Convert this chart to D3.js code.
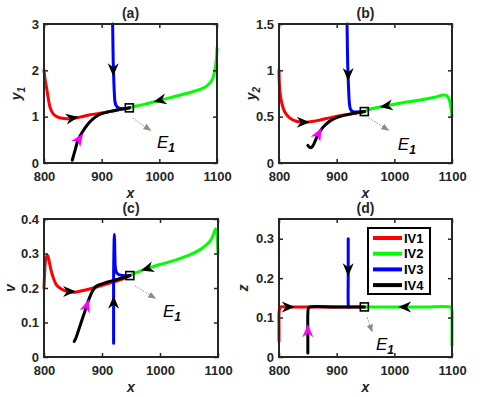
<!DOCTYPE html>
<html>
<head>
<meta charset="utf-8">
<script src="https://cdn.jsdelivr.net/npm/d3@7"></script>
<style>
  body { margin: 0; background: #fff; }
  svg text { font-family: "Liberation Sans", Arial, sans-serif; fill: #262626; }
</style>
</head>
<body>
<div id="chart"></div>
<script>
// ---- data ----
const seriesNames = ['IV1', 'IV2', 'IV3', 'IV4'];
const xTicks = [800, 900, 1000, 1100];

// (a) x vs y1
const aTicks = [0, 1, 2, 3];
const aIV1 = [[800,2.0],[802,1.8],[805,1.58],[808,1.35],[811,1.18],[816,1.06],[824,0.99],[835,0.96],[848,0.96],[862,0.99],[880,1.04],[895,1.07],[910,1.1],[925,1.14],[948,1.19]];
const aIV2 = [[1100,2.48],[1099,2.25],[1097,2.05],[1094,1.88],[1090,1.76],[1083,1.67],[1075,1.61],[1050,1.51],[1025,1.43],[1000,1.35],[975,1.27],[960,1.23],[948,1.19]];
const aIV3 = [[919,3.0],[919.5,2.6],[920,2.2],[921,1.8],[922,1.5],[923,1.33],[925,1.24],[929,1.19],[936,1.17],[948,1.19]];
const aIV4 = [[849,0.06],[854,0.28],[859,0.5],[866,0.66],[875,0.82],[885,0.95],[895,1.04],[910,1.1],[925,1.14],[948,1.19]];
const aArrows = [['IV1',850,0.97,10,0.02],['IV3',920,2.0,0,-1],['IV2',1000,1.35,-10,-0.03],['IV4',862,0.53,10,0.175]];
const aE1 = [948, 1.19];
const aE1Arrow = [954, 0.97, 984, 0.71];
const aE1Label = [996, 0.32];

// (b) x vs y2
const bTicks = [0, 0.5, 1, 1.5];
const bIV1 = [[800,1.0],[800.5,0.88],[802,0.75],[805,0.64],[810,0.55],[818,0.49],[830,0.45],[845,0.44],[860,0.45],[875,0.47],[890,0.49],[910,0.515],[930,0.535],[948,0.555]];
const bIV2 = [[1100,0.5],[1099,0.56],[1097,0.64],[1094,0.7],[1090,0.73],[1085,0.735],[1070,0.71],[1050,0.685],[1025,0.66],[1000,0.635],[975,0.605],[960,0.585],[948,0.555]];
const bIV3 = [[918,1.5],[918.5,1.3],[919,1.1],[920,0.9],[921,0.75],[922,0.65],[924,0.58],[928,0.555],[935,0.55],[948,0.555]];
const bIV4 = [[850,0.19],[853,0.17],[856,0.165],[860,0.2],[865,0.27],[872,0.35],[880,0.41],[890,0.46],[905,0.5],[925,0.53],[948,0.555]];
const bArrows = [['IV1',843,0.44,10,0.0],['IV3',920,0.95,0,-1],['IV2',985,0.615,-10,-0.01],['IV4',869,0.32,7,0.08]];
const bE1 = [948, 0.555];
const bE1Arrow = [956, 0.485, 989, 0.356];
const bE1Label = [1006, 0.14];

// (c) x vs v
const cTicks = [0, 0.1, 0.2, 0.3, 0.4];
const cIV1 = [[800,0.2],[801,0.24],[802,0.27],[804,0.29],[806,0.295],[808,0.285],[811,0.26],[815,0.235],[821,0.21],[830,0.197],[840,0.19],[852,0.188],[865,0.192],[880,0.198],[895,0.205],[915,0.215],[935,0.226],[948,0.236]];
const cIV2 = [[1100,0.3],[1099,0.33],[1098,0.36],[1096,0.372],[1093,0.36],[1088,0.34],[1080,0.325],[1070,0.312],[1050,0.295],[1025,0.28],[1000,0.268],[975,0.255],[960,0.245],[948,0.236]];
const cIV3 = [[920,0.04],[920,0.1],[920,0.16],[920,0.22],[920.3,0.28],[920.8,0.33],[921.3,0.356],[921.8,0.33],[922.3,0.29],[923,0.26],[925,0.245],[930,0.238],[948,0.236]];
const cIV4 = [[852,0.045],[855,0.055],[860,0.08],[866,0.11],[872,0.14],[878,0.17],[884,0.192],[890,0.205],[900,0.212],[920,0.222],[935,0.229],[948,0.236]];
const cArrows = [['IV1',845,0.19,10,0.0],['IV3',920,0.16,0,1],['IV2',977,0.256,-10,-0.005],['IV4',874,0.15,6,0.03]];
const cE1 = [948, 0.236];
const cE1Arrow = [957, 0.206, 991, 0.171];
const cE1Label = [1005, 0.116];

// (d) x vs z
const dTicks = [0, 0.1, 0.2, 0.3];
const dIV1 = [[800,0.04],[800,0.08],[800,0.11],[801,0.122],[803,0.127],[810,0.127],[850,0.127],[900,0.127],[948,0.127]];
const dIV2 = [[1100,0.03],[1100,0.08],[1100,0.115],[1099,0.124],[1097,0.127],[1050,0.127],[1000,0.127],[948,0.127]];
const dIV3 = [[920,0.3],[920,0.2],[920,0.135],[920.5,0.128],[922,0.127]];
const dIV4 = [[850,0.01],[850,0.06],[850,0.11],[851,0.124],[853,0.127],[900,0.127],[948,0.127]];
const dArrows = [['IV1',817,0.127,1,0],['IV3',920,0.22,0,-1],['IV2',1017,0.127,-1,0],['IV4',850,0.068,0,1]];
const dE1 = [948, 0.127];
const dE1Arrow = [953, 0.10, 961, 0.066];
const dE1Label = [968, 0.018];

// ---- styling / layout ----
const colors = { IV1: '#ff0000', IV2: '#00ff00', IV3: '#0000ff', IV4: '#000000' };
const W = 482, H = 397;

const panels = [
  { title: '(a)', ylab: 'y', sub: '1', yOff: 23, yDomain: [0, 3],    yTicks: aTicks, data: [aIV1, aIV2, aIV3, aIV4], arrows: aArrows, e1: aE1, e1Arrow: aE1Arrow, e1Label: aE1Label, box: { l: 44,  r: 217, t: 24,  b: 163 } },
  { title: '(b)', ylab: 'y', sub: '2', yOff: 23, yDomain: [0, 1.5],  yTicks: bTicks, data: [bIV1, bIV2, bIV3, bIV4], arrows: bArrows, e1: bE1, e1Arrow: bE1Arrow, e1Label: bE1Label, box: { l: 279, r: 452, t: 24,  b: 163 } },
  { title: '(c)', ylab: 'v', sub: '',  yOff: 29, yDomain: [0, 0.4],  yTicks: cTicks, data: [cIV1, cIV2, cIV3, cIV4], arrows: cArrows, e1: cE1, e1Arrow: cE1Arrow, e1Label: cE1Label, box: { l: 44,  r: 218, t: 219, b: 357 } },
  { title: '(d)', ylab: 'z', sub: '',  yOff: 31, yDomain: [0, 0.35], yTicks: dTicks, data: [dIV1, dIV2, dIV3, dIV4], arrows: dArrows, e1: dE1, e1Arrow: dE1Arrow, e1Label: dE1Label, box: { l: 279, r: 452, t: 219, b: 357 }, legend: true }
];

const svg = d3.select('#chart').append('svg')
  .attr('width', W)
  .attr('height', H);

const defs = svg.append('defs');
defs.append('marker')
  .attr('id', 'grayHead')
  .attr('viewBox', '0 0 10 10')
  .attr('refX', 8).attr('refY', 5)
  .attr('markerWidth', 8).attr('markerHeight', 8)
  .attr('markerUnits', 'userSpaceOnUse')
  .attr('orient', 'auto')
  .append('path')
  .attr('d', 'M0,1 L10,5 L0,9 Z')
  .attr('fill', '#8c8c8c');

// matlab-like barbed arrow head, tip pointing along +x
const headPath = 'M6,0 L-7,-5.5 L-3,0 L-7,5.5 Z';

panels.forEach(p => {
  const x = d3.scaleLinear().domain([800, 1100]).range([p.box.l, p.box.r]);
  const y = d3.scaleLinear().domain(p.yDomain).range([p.box.b, p.box.t]);
  const g = svg.append('g');

  const line = d3.line()
    .x(d => x(d[0]))
    .y(d => y(d[1]))
    .curve(d3.curveCatmullRom.alpha(0.5));

  // curves, IV1 first so IV4 ends on top
  p.data.forEach((pts, i) => {
    g.append('path')
      .attr('d', line(pts))
      .attr('fill', 'none')
      .attr('stroke', colors[seriesNames[i]])
      .attr('stroke-width', 3)
      .attr('stroke-linecap', 'round')
      .attr('stroke-linejoin', 'round');
  });

  // direction arrows
  p.arrows.forEach(a => {
    const px = x(a[1]), py = y(a[2]);
    const ang = Math.atan2(y(a[2] + a[4]) - py, x(a[1] + a[3]) - px) * 180 / Math.PI;
    g.append('path')
      .attr('d', headPath)
      .attr('transform', `translate(${px},${py}) rotate(${ang})`)
      .attr('fill', a[0] === 'IV4' ? '#ff00ff' : '#000');
  });

  // equilibrium marker
  g.append('rect')
    .attr('x', x(p.e1[0]) - 4).attr('y', y(p.e1[1]) - 4)
    .attr('width', 8).attr('height', 8)
    .attr('fill', 'none')
    .attr('stroke', '#000')
    .attr('stroke-width', 1.6);

  // E1 pointer
  g.append('line')
    .attr('x1', x(p.e1Arrow[0])).attr('y1', y(p.e1Arrow[1]))
    .attr('x2', x(p.e1Arrow[2])).attr('y2', y(p.e1Arrow[3]))
    .attr('stroke', '#8c8c8c')
    .attr('stroke-width', 1)
    .attr('stroke-dasharray', '1.5,1.5')
    .attr('marker-end', 'url(#grayHead)');

  const e1 = g.append('text')
    .attr('x', x(p.e1Label[0])).attr('y', y(p.e1Label[1]))
    .style('font-size', '17px')
    .style('font-style', 'italic')
    .style('fill', '#000')
    .text('E');
  e1.append('tspan')
    .attr('dy', 4)
    .style('font-size', '12px')
    .style('font-weight', 'bold')
    .text('1');

  // box with inward ticks on all sides
  const xAxisB = d3.axisBottom(x).tickValues(xTicks).tickSizeInner(-4).tickSizeOuter(0).tickPadding(9).tickFormat(d => String(d));
  const xAxisT = d3.axisTop(x).tickValues(xTicks).tickSizeInner(-4).tickSizeOuter(0).tickFormat('');
  const yAxisL = d3.axisLeft(y).tickValues(p.yTicks).tickSizeInner(-4).tickSizeOuter(0).tickPadding(5).tickFormat(d => String(d));
  const yAxisR = d3.axisRight(y).tickValues(p.yTicks).tickSizeInner(-4).tickSizeOuter(0).tickFormat('');

  const axes = [
    g.append('g').attr('transform', `translate(0,${p.box.b})`).call(xAxisB),
    g.append('g').attr('transform', `translate(0,${p.box.t})`).call(xAxisT),
    g.append('g').attr('transform', `translate(${p.box.l},0)`).call(yAxisL),
    g.append('g').attr('transform', `translate(${p.box.r},0)`).call(yAxisR)
  ];
  axes.forEach(a => {
    a.select('.domain').remove();
    a.selectAll('.tick line').attr('stroke', '#262626').attr('stroke-width', 1.5);
    a.selectAll('.tick text')
      .style('font-size', '13px')
      .style('font-weight', 'bold')
      .attr('fill', '#262626');
  });

  g.append('rect')
    .attr('x', p.box.l).attr('y', p.box.t)
    .attr('width', p.box.r - p.box.l).attr('height', p.box.b - p.box.t)
    .attr('fill', 'none')
    .attr('stroke', '#262626')
    .attr('stroke-width', 2);

  // title
  g.append('text')
    .attr('x', (p.box.l + p.box.r) / 2)
    .attr('y', p.box.t - 6)
    .attr('text-anchor', 'middle')
    .style('font-size', '14px')
    .style('font-weight', 'bold')
    .text(p.title);

  // x label
  g.append('text')
    .attr('x', (p.box.l + p.box.r) / 2)
    .attr('y', p.box.b + 35)
    .attr('text-anchor', 'middle')
    .style('font-size', '14px')
    .style('font-weight', 'bold')
    .style('font-style', 'italic')
    .text('x');

  // y label
  const yl = g.append('text')
    .attr('transform', `translate(${p.box.l - p.yOff},${(p.box.t + p.box.b) / 2}) rotate(-90)`)
    .attr('text-anchor', 'middle')
    .style('font-size', '14px')
    .style('font-weight', 'bold')
    .style('font-style', 'italic')
    .text(p.ylab);
  if (p.sub) {
    yl.append('tspan').attr('dy', 4).style('font-size', '10px').text(p.sub);
  }

  if (p.legend) {
    const lg = g.append('g');
    lg.append('rect')
      .attr('x', 368).attr('y', 228)
      .attr('width', 62).attr('height', 66)
      .attr('fill', '#fff')
      .attr('stroke', '#000')
      .attr('stroke-width', 2);
    seriesNames.forEach((s, i) => {
      const ly = 238 + i * 15.7;
      lg.append('line')
        .attr('x1', 373).attr('x2', 402)
        .attr('y1', ly).attr('y2', ly)
        .attr('stroke', colors[s])
        .attr('stroke-width', 4);
      lg.append('text')
        .attr('x', 404).attr('y', ly + 4.5)
        .style('font-size', '13px')
        .style('font-weight', 'bold')
        .style('fill', '#000')
        .text(s);
    });
  }
});
</script>
</body>
</html>
